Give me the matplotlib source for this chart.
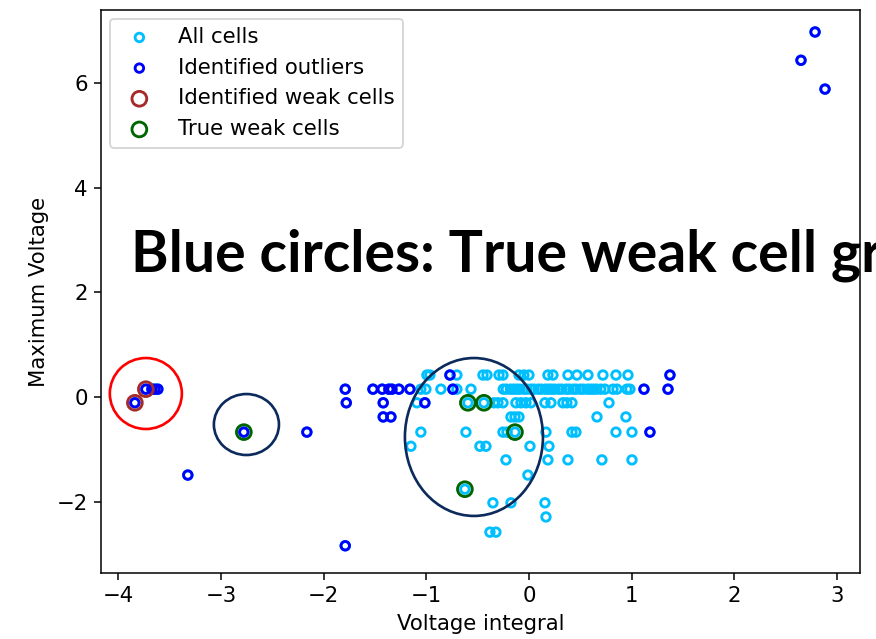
import matplotlib
matplotlib.use("Agg")
import matplotlib.pyplot as plt
from matplotlib.patches import Ellipse

# Cells that were not flagged (voltage integral, maximum voltage)
normal_x = [
    # y = 0.42
    -0.994, -0.965, -0.702, -0.448, -0.409, -0.292, -0.253, -0.097, -0.049, 0.0,
    0.185, 0.234, 0.380, 0.468, 0.575, 0.721, 0.848, 0.965,
    # y = 0.15
    -1.053, -1.004, -0.858, -0.702, -0.565,
    -0.25, -0.22, -0.18, -0.15, -0.12, -0.09, -0.05, -0.02, 0.02, 0.05,
    0.09, 0.12, 0.16, 0.19, 0.22, 0.25, 0.29, 0.32, 0.36, 0.39,
    0.43, 0.46, 0.50, 0.53, 0.57, 0.60, 0.63, 0.66, 0.70, 0.74,
    0.819, 0.858, 0.955, 0.984,
    # y = -0.11
    -1.092, -0.595, -0.439, -0.341, -0.302, -0.253, -0.127, -0.078, -0.029, 0.019,
    0.156, 0.214, 0.331, 0.370, 0.419, 0.780,
    # y = -0.38
    -0.175, -0.136, -0.097, 0.663, 0.945,
    # y = -0.67
    -1.053, -0.614, -0.253, -0.214, -0.136, 0.166, 0.419, 0.458, 0.848, 1.004,
    # y = -0.94
    -1.150, -0.478, -0.419, 0.010, 0.195,
    # y = -1.20
    -0.224, 0.185, 0.380, 0.711, 1.004,
    # y = -1.49
    -0.010,
    # y = -1.76
    -0.624,
    # y = -2.02
    -0.351, -0.175, 0.156,
    # y = -2.29
    0.166,
    # y = -2.58
    -0.380, -0.322,
]
normal_y = (
    [0.42] * 18
    + [0.15] * 39
    + [-0.11] * 16
    + [-0.38] * 5
    + [-0.67] * 10
    + [-0.94] * 5
    + [-1.20] * 5
    + [-1.49] * 1
    + [-1.76] * 1
    + [-2.02] * 3
    + [-2.29] * 1
    + [-2.58] * 2
)

# Cells flagged as outliers
outlier_x = [
    2.788, 2.651, 2.885,
    -0.770, 1.374,
    -3.733, -3.674, -3.645, -3.616, -1.790, -1.520, -1.430, -1.365, -1.335,
    -1.267, -1.160, -0.741, 1.121, 1.355,
    -3.840, -1.780, -1.420, -1.014,
    -1.420, -1.345,
    -2.778, -2.164, 1.179,
    -3.324,
    -1.790,
]
outlier_y = [
    6.97, 6.43, 5.88,
    0.42, 0.42,
    0.15, 0.15, 0.15, 0.15, 0.15, 0.15, 0.15, 0.15, 0.15,
    0.15, 0.15, 0.15, 0.15, 0.15,
    -0.11, -0.11, -0.11, -0.11,
    -0.38, -0.38,
    -0.67, -0.67, -0.67,
    -1.49,
    -2.84,
]

# Weak cells found by the method
ident_weak_x = [-3.733, -3.840]
ident_weak_y = [0.15, -0.11]

# Weak cells known from ground truth
true_weak_x = [-2.778, -0.595, -0.439, -0.136, -0.624]
true_weak_y = [-0.67, -0.11, -0.11, -0.67, -1.76]

all_x = normal_x + outlier_x
all_y = normal_y + outlier_y

# Highlight rings: (centre x, centre y, width, height, colour)
rings = [
    (-3.733, 0.067, 0.702, 1.355, "red"),
    (-2.753, -0.525, 0.634, 1.164, "#0c2a5c"),
    (-0.536, -0.763, 1.345, 3.015, "#0c2a5c"),
]

plt.rcParams["font.size"] = 11.2

DPI = 137
fig = plt.figure(figsize=(876 / DPI, 639 / DPI), dpi=DPI)
ax = fig.add_axes([101 / 876, 1 - 573 / 639, 759 / 876, 563 / 639])

ax.scatter(all_x, all_y, s=20, facecolors="none", edgecolors="deepskyblue",
           linewidths=1.5, label="All cells", zorder=2)
ax.scatter(outlier_x, outlier_y, s=20, facecolors="none", edgecolors="blue",
           linewidths=1.5, label="Identified outliers", zorder=3)
ax.scatter(ident_weak_x, ident_weak_y, s=60, facecolors="none", edgecolors="brown",
           linewidths=1.5, label="Identified weak cells", zorder=4)
ax.scatter(true_weak_x, true_weak_y, s=60, facecolors="none", edgecolors="darkgreen",
           linewidths=1.5, label="True weak cells", zorder=5)

for cx, cy, w, h, col in rings:
    ax.add_patch(Ellipse((cx, cy), w, h, facecolor="none", edgecolor=col,
                         linewidth=1.4, zorder=6))

ax.set_xlim(-4.17, 3.226)
ax.set_ylim(-3.36, 7.39)
ax.set_xticks([-4, -3, -2, -1, 0, 1, 2, 3])
ax.set_yticks([-2, 0, 2, 4, 6])
ax.set_xlabel("Voltage integral")
ax.set_ylabel("Maximum Voltage")
ax.legend(loc="upper left", borderaxespad=0.4)

fig.text(131 / 876, 1 - 271 / 639, "Blue circles: True weak cell groups",
         fontsize=30, fontweight="bold", family="Lato", color="black",
         ha="left", va="baseline", zorder=10)

fig.savefig("out.png", dpi=DPI)
